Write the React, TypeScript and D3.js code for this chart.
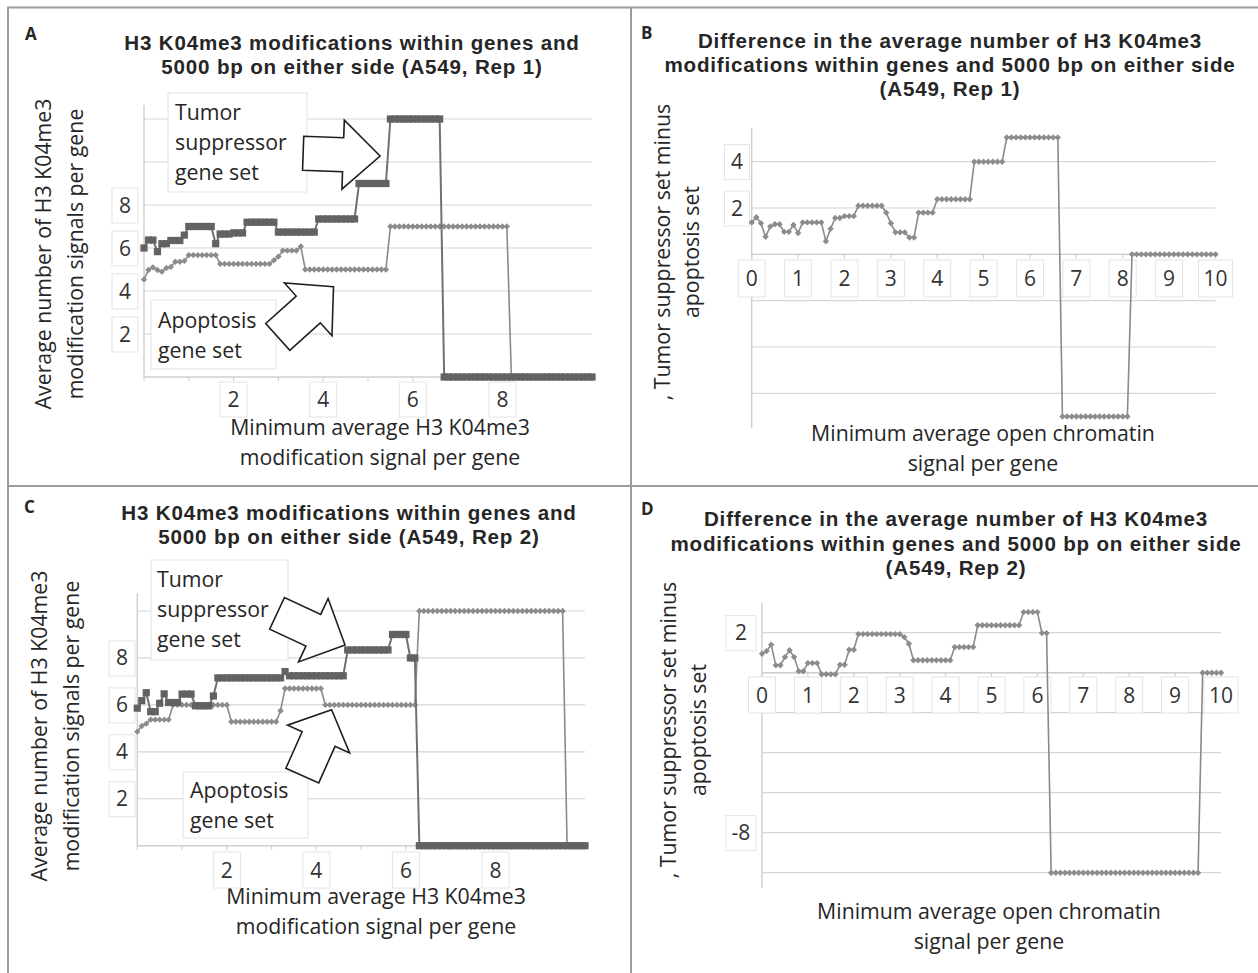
import * as d3 from "d3";
import React from "react";

// thresholds on the x axis: minimum average signal, every 0.1 from 0 to 10
const thresholds = d3.range(0, 101).map((i) => i / 10);

// step series: [threshold where the value starts, value]
type Run = [number, number];

const tumorRep1: Run[] = [
  [0, 6.0], [0.1, 6.37], [0.3, 5.83], [0.4, 6.2], [0.6, 6.35], [0.9, 6.6], [1.0, 7.0],
  [1.6, 6.2], [1.7, 6.65], [2.0, 6.7], [2.3, 7.2], [3.0, 6.74], [3.9, 7.35], [4.8, 9.0],
  [5.5, 12.0], [6.7, 0],
];
const apoptosisRep1: Run[] = [
  [0, 4.54], [0.1, 4.98], [0.2, 5.1], [0.3, 4.98], [0.4, 4.9], [0.5, 5.07], [0.6, 5.12],
  [0.7, 5.36], [0.9, 5.4], [1.0, 5.67], [1.7, 5.26], [2.9, 5.43], [3.0, 5.6], [3.1, 5.88],
  [3.5, 6.07], [3.6, 5.0], [5.5, 7.0], [8.2, 0],
];
const diffRep1: Run[] = [
  [0, 1.38], [0.1, 1.6], [0.2, 1.34], [0.3, 0.76], [0.4, 1.2], [0.5, 1.3], [0.7, 0.97],
  [0.9, 1.27], [1.0, 0.92], [1.1, 1.38], [1.6, 0.56], [1.7, 1.1], [1.8, 1.57], [2.0, 1.65],
  [2.3, 2.1], [2.9, 1.8], [3.0, 1.34], [3.1, 0.95], [3.4, 0.73], [3.6, 1.8], [4.0, 2.38],
  [4.8, 4.0], [5.5, 5.05], [6.7, -7.0], [8.2, 0],
];
const tumorRep2: Run[] = [
  [0, 5.86], [0.1, 6.18], [0.2, 6.52], [0.3, 5.71], [0.5, 6.07], [0.6, 6.47], [0.7, 6.1],
  [1.0, 6.46], [1.3, 5.96], [1.7, 6.38], [1.8, 7.15], [3.3, 7.42], [3.4, 7.24], [4.7, 8.34],
  [5.7, 9.0], [6.1, 8.0], [6.3, 0],
];
const apoptosisRep2: Run[] = [
  [0, 4.86], [0.1, 5.1], [0.2, 5.2], [0.3, 5.37], [0.8, 6.0], [2.1, 5.28], [3.2, 5.75],
  [3.3, 6.7], [4.2, 6.0], [6.3, 10.0], [9.6, 0],
];
const diffRep2: Run[] = [
  [0, 0.95], [0.1, 1.08], [0.2, 1.4], [0.3, 0.37], [0.5, 0.78], [0.6, 1.12], [0.7, 0.78],
  [0.8, 0.07], [1.0, 0.48], [1.3, -0.08], [1.7, 0.4], [1.9, 1.15], [2.1, 1.93], [3.1, 1.78],
  [3.2, 1.45], [3.3, 0.62], [4.2, 1.28], [4.7, 2.37], [5.7, 3.03], [6.1, 1.98], [6.3, -10],
  [9.6, 0],
];

// tick labels and gridlines
const gridA = [2, 4, 6, 8, 10, 12];
const yLabelsA = [2, 4, 6, 8];
const xLabelsA = [2, 4, 6, 8];
const gridB = [-6, -4, -2, 0, 2, 4];
const yLabelsB = [2, 4];
const xLabelsB = [0, 1, 2, 3, 4, 5, 6, 7, 8, 9, 10];
const gridC = [2, 4, 6, 8, 10];
const yLabelsC = [2, 4, 6, 8];
const xLabelsC = [2, 4, 6, 8];
const gridD = [-10, -8, -6, -4, -2, 0, 2];
const yLabelsD = [2, -8];
const xLabelsD = [0, 1, 2, 3, 4, 5, 6, 7, 8, 9, 10];
const xTicks = [0, 1, 2, 3, 4, 5, 6, 7, 8, 9, 10];

const FONT = "'Open Sans', Lato, sans-serif";
const TITLE_FONT = "'Liberation Sans', Arial, sans-serif";
const INK = "#262626";

function expand(runs: Run[]): [number, number][] {
  return thresholds.map((x) => {
    let v = runs[0][1];
    for (const [start, val] of runs) if (x >= start - 1e-6) v = val;
    return [x, v];
  });
}

function blockArrow(len: number, shaftW: number, headW: number, headL: number) {
  return [
    [0, 0], [-headL, -headW / 2], [-headL, -shaftW / 2], [-len, -shaftW / 2],
    [-len, shaftW / 2], [-headL, shaftW / 2], [-headL, headW / 2],
  ].map((p) => p.join(",")).join(" ");
}

const diamond = "M0,-3.2L3.2,0L0,3.2L-3.2,0Z";

type Series = { runs: Run[]; kind: "square" | "diamond" };
type Note = { lines: string[]; x: number; y: number; w: number; h: number; tx: number; ty: number };
type Arrow = { tip: [number, number]; angle: number; len: number; shaftW: number; headW: number; headL: number };

type PanelProps = {
  letter: string; letterX: number; letterY: number;
  title: string[]; titleX: number; titleY: number; titleDy: number;
  yTitle: string[]; yTitleX: number[]; yTitleCy: number;
  xTitle: string[]; xTitleX: number; xTitleY: number; xTitleDy: number;
  xRange: [number, number]; yDomain: [number, number]; yRange: [number, number];
  yAxisTop: number; yAxisBottom: number;
  grid: number[]; yLabels: number[]; yLabelCx: number; yLabelW: number;
  xLabels: number[]; xLabelTop: number; xLabelH: number; baseValue: number;
  series: Series[]; notes: Note[]; arrows: Arrow[];
};

function Panel(p: PanelProps) {
  const x = d3.scaleLinear().domain([0, 10]).range(p.xRange);
  const y = d3.scaleLinear().domain(p.yDomain).range(p.yRange);
  const line = d3.line<[number, number]>().x((d) => x(d[0])).y((d) => y(d[1]));
  const x0 = p.xRange[0];
  const x1 = p.xRange[1];
  const yBase = y(p.baseValue);

  return (
    <g fontFamily={FONT} fill={INK}>
      <text x={p.letterX} y={p.letterY} fontSize={17} fontWeight="bold">{p.letter}</text>
      {p.title.map((t, i) => (
        <text key={t} x={p.titleX} y={p.titleY + i * p.titleDy} fontFamily={TITLE_FONT} fontSize={20.6} letterSpacing={0.8} fontWeight="bold" textAnchor="middle">{t}</text>
      ))}
      {p.yTitle.map((t, i) => (
        <text key={t} transform={`translate(${p.yTitleX[i]},${p.yTitleCy}) rotate(-90)`} fontSize={21.3} textAnchor="middle">{t}</text>
      ))}
      {p.xTitle.map((t, i) => (
        <text key={t} x={p.xTitleX} y={p.xTitleY + i * p.xTitleDy} fontSize={21.3} textAnchor="middle">{t}</text>
      ))}

      {/* gridlines */}
      {p.grid.map((g) => (
        <line key={g} x1={x0} x2={x1} y1={y(g)} y2={y(g)} stroke="#d6d6d6" strokeWidth={1.2} />
      ))}
      <line x1={x0} x2={x0} y1={p.yAxisTop} y2={p.yAxisBottom} stroke="#cfcfcf" strokeWidth={1.4} />
      <line x1={x0} x2={x1} y1={yBase} y2={yBase} stroke="#cfcfcf" strokeWidth={1.4} />
      {xTicks.map((t) => (
        <line key={t} x1={x(t)} x2={x(t)} y1={yBase} y2={yBase + 4} stroke="#cfcfcf" strokeWidth={1.2} />
      ))}

      {/* y tick labels in their boxes */}
      {p.yLabels.map((v) => (
        <g key={v}>
          <rect x={p.yLabelCx - p.yLabelW / 2} y={y(v) - 17} width={p.yLabelW} height={35} fill="#fff" stroke="#e4e4e4" />
          <text x={p.yLabelCx} y={y(v) + 7.5} fontSize={21} textAnchor="middle" fill="#333">{v}</text>
        </g>
      ))}
      {/* x tick labels in their boxes */}
      {p.xLabels.map((v) => {
        const w = v >= 10 ? 34 : 27;
        return (
          <g key={v}>
            <rect x={x(v) - w / 2} y={p.xLabelTop} width={w} height={p.xLabelH} fill="#fff" stroke="#e4e4e4" />
            <text x={x(v)} y={p.xLabelTop + p.xLabelH / 2 + 7.5} fontSize={21} textAnchor="middle" fill="#333">{v}</text>
          </g>
        );
      })}

      {/* annotation boxes */}
      {p.notes.map((n) => (
        <g key={n.lines[0]}>
          <rect x={n.x} y={n.y} width={n.w} height={n.h} fill="#fff" stroke="#e2e2e2" />
          {n.lines.map((t, i) => (
            <text key={t} x={n.tx} y={n.ty + i * 30} fontSize={21.3}>{t}</text>
          ))}
        </g>
      ))}

      {/* series */}
      {p.series.map((s, si) => {
        const pts = expand(s.runs);
        return (
          <g key={si}>
            <path d={line(pts) ?? ""} fill="none" stroke={s.kind === "square" ? "#707070" : "#8a8a8a"} strokeWidth={s.kind === "square" ? 2 : 1.6} />
            {pts.map((d, i) =>
              s.kind === "square" ? (
                <rect key={i} x={x(d[0]) - 3.6} y={y(d[1]) - 3.6} width={7.2} height={7.2} fill="#626262" />
              ) : (
                <path key={i} d={diamond} transform={`translate(${x(d[0])},${y(d[1])})`} fill="#8c8c8c" />
              )
            )}
          </g>
        );
      })}

      {/* block arrows */}
      {p.arrows.map((a, i) => (
        <polygon
          key={i}
          points={blockArrow(a.len, a.shaftW, a.headW, a.headL)}
          transform={`translate(${x(a.tip[0])},${y(a.tip[1])}) rotate(${a.angle})`}
          fill="#fff"
          stroke="#1e1e1e"
          strokeWidth={1.6}
          strokeLinejoin="miter"
        />
      ))}
    </g>
  );
}

const avgTitle = ["Average number of H3 K04me3", "modification signals per gene"];
const avgX = ["Minimum average H3 K04me3", "modification signal per gene"];
const diffY = [", Tumor suppressor set minus", "apoptosis set"];
const diffX = ["Minimum average open chromatin", "signal per gene"];

export default function App() {
  return (
    <svg width={1258} height={973} style={{ position: "absolute", left: 0, top: 0, background: "#fff" }}>
      <rect width={1258} height={973} fill="#fff" />
      {/* panel frame */}
      <g stroke="#9c9c9c" strokeWidth={2}>
        <line x1={7} x2={1258} y1={7.5} y2={7.5} />
        <line x1={8} x2={8} y1={7} y2={973} />
        <line x1={631} x2={631} y1={7} y2={973} />
        <line x1={7} x2={1258} y1={486} y2={486} />
      </g>

      <Panel
        letter="A" letterX={25} letterY={40}
        title={["H3 K04me3 modifications within genes and", "5000 bp on either side (A549, Rep 1)"]}
        titleX={352} titleY={50} titleDy={24}
        yTitle={avgTitle} yTitleX={[51, 83]} yTitleCy={254}
        xTitle={avgX} xTitleX={380} xTitleY={435} xTitleDy={30}
        xRange={[144, 592]} yDomain={[0, 12]} yRange={[377, 119]}
        yAxisTop={105} yAxisBottom={377}
        grid={gridA} yLabels={yLabelsA} yLabelCx={125} yLabelW={26}
        xLabels={xLabelsA} xLabelTop={382} xLabelH={35} baseValue={0}
        series={[{ runs: apoptosisRep1, kind: "diamond" }, { runs: tumorRep1, kind: "square" }]}
        notes={[
          { lines: ["Tumor", "suppressor", "gene set"], x: 168, y: 93, w: 139, h: 99, tx: 175, ty: 120 },
          { lines: ["Apoptosis", "gene set"], x: 151, y: 300, w: 125, h: 69, tx: 158, ty: 328 },
        ]}
        arrows={[
          { tip: [5.27, 10.28], angle: 2, len: 77, shaftW: 34, headW: 69, headL: 37 },
          { tip: [4.23, 4.2], angle: -42, len: 75, shaftW: 36, headW: 71, headL: 34 },
        ]}
      />

      <Panel
        letter="B" letterX={641} letterY={39}
        title={["Difference in the average number of H3 K04me3", "modifications within genes and 5000 bp on either side", "(A549, Rep 1)"]}
        titleX={950} titleY={48} titleDy={24}
        yTitle={diffY} yTitleX={[670, 699]} yTitleCy={252}
        xTitle={diffX} xTitleX={983} xTitleY={441} xTitleDy={30}
        xRange={[751.7, 1215.5]} yDomain={[-6, 4]} yRange={[393.3, 161.7]}
        yAxisTop={128} yAxisBottom={428}
        grid={gridB} yLabels={yLabelsB} yLabelCx={737} yLabelW={25}
        xLabels={xLabelsB} xLabelTop={260} xLabelH={37} baseValue={0}
        series={[{ runs: diffRep1, kind: "diamond" }]}
        notes={[]}
        arrows={[]}
      />

      <Panel
        letter="C" letterX={24} letterY={513}
        title={["H3 K04me3 modifications within genes and", "5000 bp on either side (A549, Rep 2)"]}
        titleX={349} titleY={520} titleDy={24}
        yTitle={avgTitle} yTitleX={[47, 79]} yTitleCy={726}
        xTitle={avgX} xTitleX={376} xTitleY={904} xTitleDy={30}
        xRange={[137.3, 585]} yDomain={[0, 10]} yRange={[845.7, 611]}
        yAxisTop={593} yAxisBottom={846}
        grid={gridC} yLabels={yLabelsC} yLabelCx={122} yLabelW={26}
        xLabels={xLabelsC} xLabelTop={852} xLabelH={36} baseValue={0}
        series={[{ runs: apoptosisRep2, kind: "diamond" }, { runs: tumorRep2, kind: "square" }]}
        notes={[
          { lines: ["Tumor", "suppressor", "gene set"], x: 151, y: 560, w: 137, h: 100, tx: 157, ty: 587 },
          { lines: ["Apoptosis", "gene set"], x: 183, y: 772, w: 125, h: 66, tx: 190, ty: 798 },
        ]}
        arrows={[
          { tip: [4.64, 8.55], angle: 25, len: 75, shaftW: 35, headW: 70, headL: 35 },
          { tip: [4.34, 5.79], angle: -66, len: 72, shaftW: 36, headW: 68, headL: 32 },
        ]}
      />

      <Panel
        letter="D" letterX={641} letterY={515}
        title={["Difference in the average number of H3 K04me3", "modifications within genes and 5000 bp on either side", "(A549, Rep 2)"]}
        titleX={956} titleY={526} titleDy={24.5}
        yTitle={diffY} yTitleX={[676, 706]} yTitleCy={730}
        xTitle={diffX} xTitleX={989} xTitleY={919} xTitleDy={30}
        xRange={[762, 1221]} yDomain={[-10, 2]} yRange={[872.7, 632.7]}
        yAxisTop={603} yAxisBottom={888}
        grid={gridD} yLabels={yLabelsD} yLabelCx={741} yLabelW={30}
        xLabels={xLabelsD} xLabelTop={677} xLabelH={36} baseValue={0}
        series={[{ runs: diffRep2, kind: "diamond" }]}
        notes={[]}
        arrows={[]}
      />
    </svg>
  );
}
